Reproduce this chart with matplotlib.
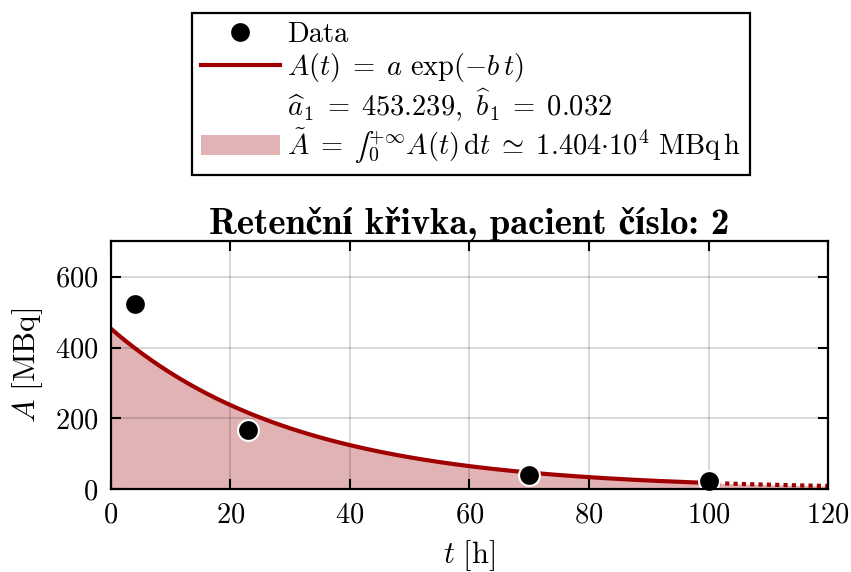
import numpy as np
import matplotlib
matplotlib.use("Agg")
import matplotlib.pyplot as plt
from matplotlib.mathtext import MathTextParser
from matplotlib.font_manager import FontProperties
from matplotlib.lines import Line2D
from matplotlib.patches import Patch

plt.rcParams["font.family"] = "serif"
plt.rcParams["font.serif"] = ["cmr10"]
plt.rcParams["mathtext.fontset"] = "cm"
plt.rcParams["axes.formatter.use_mathtext"] = True
plt.rcParams["axes.unicode_minus"] = False

# Measured activities
t_data = [4, 23, 70, 100]
A_data = [524, 167, 40, 23]

# Fitted mono-exponential model
a_fit = 453.239
A_tilde = 1.404e4
b_fit = a_fit / A_tilde
t_last = 100
t_max = 120

x_ticks = [0, 20, 40, 60, 80, 100, 120]
y_ticks = [0, 200, 400, 600]

title_text = "Retenční křivka, pacient číslo: 2"

red = "#a00000"
pink = "#e2b3b5"


def most_compact(candidates, size):
    """Return the parsable math string with the smallest total height."""
    parser = MathTextParser("path")
    prop = FontProperties(size=size)
    best, best_h = None, None
    for s in candidates:
        try:
            w, h, d, *_ = parser.parse(s, dpi=72, prop=prop)
        except Exception:
            continue
        if best is None or h < best_h:
            best, best_h = s, h
    return best if best is not None else candidates[-1]


fig = plt.figure(figsize=(8.51, 5.72), dpi=100)
ax = fig.add_axes([0.1304, 0.1446, 0.8426, 0.4335])

t_fit = np.linspace(0, t_last, 400)
t_ext = np.linspace(t_last, t_max, 100)
t_all = np.linspace(0, t_max, 500)

ax.fill_between(t_all, 0, a_fit * np.exp(-b_fit * t_all), color=pink, lw=0, zorder=1)
ax.plot(t_fit, a_fit * np.exp(-b_fit * t_fit), color=red, lw=3, zorder=3)
ax.plot(t_ext, a_fit * np.exp(-b_fit * t_ext), color=red, lw=3,
        linestyle=(0, (1, 1)), dash_capstyle="butt", zorder=3)
ax.plot(t_data, A_data, "o", color="black", markersize=15,
        markeredgecolor="white", markeredgewidth=1.5, zorder=4, clip_on=False)

ax.set_xlim(0, t_max)
ax.set_ylim(0, 700)
ax.set_xticks(x_ticks)
ax.set_yticks(y_ticks)
ax.grid(True, color="black", alpha=0.15, lw=1.4, zorder=2)
ax.set_axisbelow(False)
ax.tick_params(direction="in", length=7, width=1.5, labelsize=20.5,
               top=True, right=True, pad=9)
for s in ax.spines.values():
    s.set_linewidth(1.6)
    s.set_zorder(5)

ax.set_xlabel(r"$t\ [\mathrm{h}]$", fontsize=22, labelpad=7)
ax.set_ylabel(r"$A\ [\mathrm{MBq}]$", fontsize=22.5, labelpad=7)
ax.set_title(title_text, fontsize=26.5, fontweight="bold",
             family=["cmb10", "STIXGeneral"], pad=5)

handles = [
    Line2D([], [], marker="o", color="black", linestyle="none", markersize=15,
           markeredgecolor="white", markeredgewidth=1.5),
    Line2D([], [], color=red, lw=3),
    Line2D([], [], color="none"),
    Patch(facecolor=pink, edgecolor="none"),
]
tail = r"A(t)\,\mathrm{d}t \;\simeq\; %.3f{\cdot}10^4\ \mathrm{MBq\,h}$" % (A_tilde / 1e4)
integral_label = most_compact([
    r"$\tilde{A} \;=\; ∫_0^{+\infty}" + tail,
    r"$\tilde{A} \;=\; \mathrm{∫}_0^{+\infty}" + tail,
    r"$\tilde{A} \;=\; \int_0^{+\infty}\!" + tail,
], size=20.5)
labels = [
    "Data",
    r"$A(t) \;=\; a\ \exp(-b\,t)$",
    r"$\widehat{a}_1 \;=\; %.3f,\ \widehat{b}_1 \;=\; %.3f$" % (a_fit, b_fit),
    integral_label,
]
leg = fig.legend(handles, labels, loc="upper center", bbox_to_anchor=(0.5535, 0.977),
                 fontsize=20.5, frameon=True, fancybox=False, handlelength=2.77,
                 handletextpad=0.25, labelspacing=0.1, borderpad=0.3,
                 borderaxespad=0, framealpha=1)
leg.get_frame().set_edgecolor("black")
leg.get_frame().set_linewidth(1.6)

fig.savefig("out.png", dpi=100)
